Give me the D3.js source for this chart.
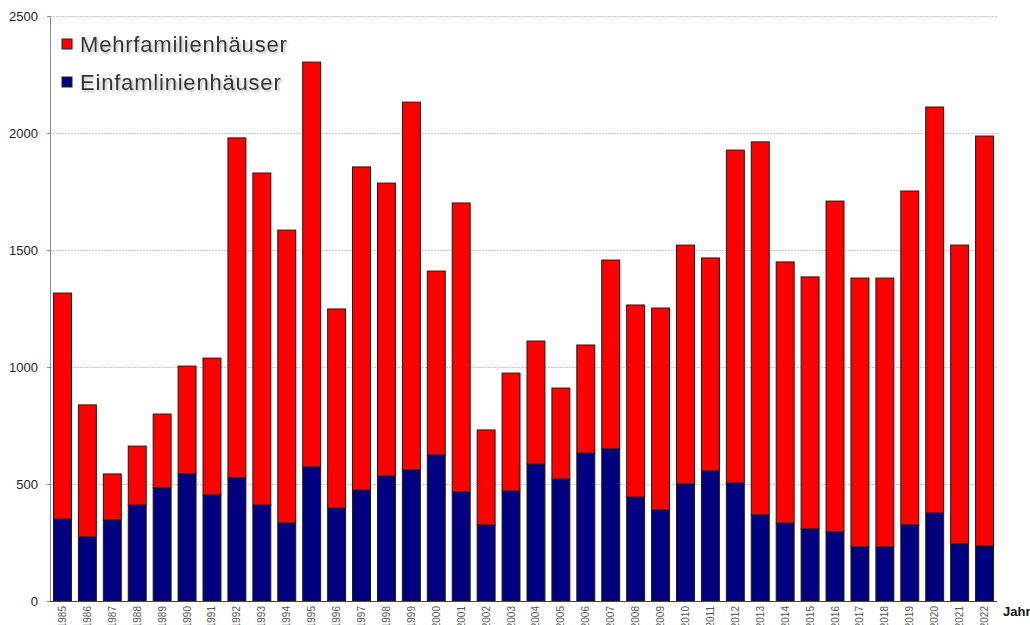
<!DOCTYPE html>
<html>
<head>
<meta charset="utf-8">
<script src="https://cdn.jsdelivr.net/npm/d3@7"></script>
<style>
  html, body { margin: 0; padding: 0; background: #fff; overflow: hidden; }
  svg { display: block; font-family: "Liberation Sans", Arial, sans-serif; }
</style>
</head>
<body>
<svg id="chart" width="1030" height="625"></svg>
<script>
// data
var years = [1985,1986,1987,1988,1989,1990,1991,1992,1993,1994,1995,1996,1997,1998,1999,
             2000,2001,2002,2003,2004,2005,2006,2007,2008,2009,2010,2011,2012,2013,2014,
             2015,2016,2017,2018,2019,2020,2021,2022];
var einfamilien = [350,274,346,410,483,543,453,526,410,333,573,397,474,534,560,
                   624,466,325,470,585,521,632,650,444,389,500,556,504,368,333,
                   308,295,231,231,325,376,244,235];
var mehrfamilien = [966,564,197,252,316,461,585,1453,1419,1252,1730,851,1381,1252,1572,
                    786,1235,406,504,526,389,462,807,821,863,1021,910,1423,1594,1116,
                    1077,1414,1149,1149,1427,1735,1277,1752];
var yTicks = [0,500,1000,1500,2000,2500];
var seriesNames = ["Einfamlinienhäuser", "Mehrfamilienhäuser"];
var seriesColors = {"Einfamlinienhäuser": "#000080", "Mehrfamilienhäuser": "#ff0000"};

var svg = d3.select("#chart");
var plotLeft = 50, plotRight = 997, plotTop = 16, plotBottom = 601;

var rows = years.map(function(y, i){
    return {year: y, "Einfamlinienhäuser": einfamilien[i], "Mehrfamilienhäuser": mehrfamilien[i]};
});

var xScale = d3.scaleBand()
        .domain(years)
        .range([plotLeft, plotRight])
        .paddingInner(0.28)
        .paddingOuter(0.14);

var yScale = d3.scaleLinear()
        .domain([0, 2500])
        .range([plotBottom, plotTop]);

// gridlines
svg.append("g")
    .selectAll("line")
    .data(yTicks.slice(1))
    .enter().append("line")
    .attr("x1", plotLeft).attr("x2", plotRight)
    .attr("y1", function(d){ return yScale(d) + 0.5; })
    .attr("y2", function(d){ return yScale(d) + 0.5; })
    .style("stroke", "#c8c8c8")
    .style("stroke-width", 1)
    .style("stroke-dasharray", "2,1");

// y axis
var yAxis = d3.axisLeft(yScale)
        .tickValues(yTicks)
        .tickFormat(d3.format("d"))
        .tickSize(3)
        .tickPadding(9);
var gy = svg.append("g")
    .attr("transform", "translate(" + plotLeft + ",0)")
    .call(yAxis);
gy.select(".domain").style("stroke", "#8a8a8a");
gy.selectAll(".tick line").style("stroke", "#8a8a8a");
gy.selectAll(".tick text")
    .style("font-size", "13px")
    .style("fill", "#222")
    .style("font-family", "'Liberation Sans', Arial, sans-serif");

// stacked bars
var stack = d3.stack().keys(seriesNames);
var layers = stack(rows);

svg.append("g")
    .selectAll("g")
    .data(layers)
    .enter().append("g")
    .style("fill", function(d){ return seriesColors[d.key]; })
    .selectAll("rect")
    .data(function(d){ return d; })
    .enter().append("rect")
    .attr("x", function(d){ return xScale(d.data.year); })
    .attr("width", xScale.bandwidth())
    .attr("y", function(d){ return yScale(d[1]); })
    .attr("height", function(d){ return yScale(d[0]) - yScale(d[1]); })
    .style("stroke", "#1a1a1a")
    .style("stroke-width", 1);

// x axis line
svg.append("line")
    .attr("x1", plotLeft).attr("x2", plotRight)
    .attr("y1", plotBottom + 0.5).attr("y2", plotBottom + 0.5)
    .style("stroke", "#444")
    .style("stroke-width", 1);

// year labels (run off the bottom edge like the original)
svg.append("g")
    .selectAll("text")
    .data(years)
    .enter().append("text")
    .attr("transform", function(d){
        return "translate(" + (xScale(d) + xScale.bandwidth() / 2) + "," + 606 + ") rotate(-90)";
    })
    .attr("dy", "0.35em")
    .style("text-anchor", "end")
    .style("font-size", "10px")
    .style("fill", "#555")
    .text(function(d){ return d; });

svg.append("text")
    .attr("x", 1003)
    .attr("y", 616)
    .style("font-size", "13px")
    .style("font-weight", "bold")
    .style("fill", "#111")
    .text("Jahr");

// legend with a soft shadow
var defs = svg.append("defs");
var f = defs.append("filter").attr("id", "shadow")
    .attr("x", "-5%").attr("y", "-20%").attr("width", "115%").attr("height", "160%");
f.append("feDropShadow")
    .attr("dx", 2).attr("dy", 2).attr("stdDeviation", 1.2)
    .attr("flood-color", "#999").attr("flood-opacity", 0.6);

var legendItems = ["Mehrfamilienhäuser", "Einfamlinienhäuser"];
var legend = svg.selectAll(".legend")
    .data(legendItems)
    .enter().append("g")
    .attr("class", "legend")
    .attr("transform", function(d, i){ return "translate(62," + (39 + i * 38) + ")"; });

legend.append("rect")
    .attr("width", 10)
    .attr("height", 10)
    .style("fill", function(d){ return seriesColors[d]; })
    .style("stroke", "#222")
    .style("stroke-width", 1);

legend.append("text")
    .attr("x", 18)
    .attr("y", 5)
    .attr("dy", "0.36em")
    .attr("filter", "url(#shadow)")
    .style("font-size", "22px")
    .style("letter-spacing", "0.8px")
    .style("fill", "#333")
    .text(function(d){ return d; });
</script>
</body>
</html>
